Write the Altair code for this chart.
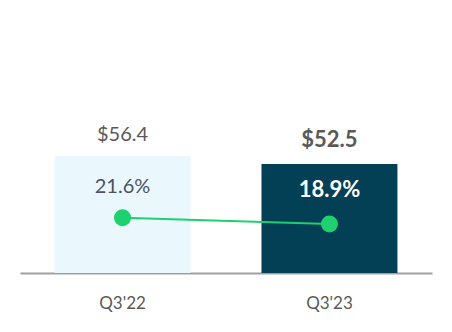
import altair as alt
import pandas as pd

quarters = ["Q3'22", "Q3'23"]
revenue = [56.4, 52.5]
revenue_labels = ["$56.4", "$52.5"]
margin = [21.6, 18.9]
margin_labels = ["21.6%", "18.9%"]
bar_colors = ["#EAF8FE", "#033F55"]

df = pd.DataFrame({
    "q": quarters, "rev": revenue, "revl": revenue_labels,
    "m": margin, "ml": margin_labels, "c": bar_colors,
})

FONT = "Lato"
x = alt.X("q:N", sort=quarters, title=None,
          scale=alt.Scale(paddingInner=0.343, paddingOuter=0.167),
          axis=alt.Axis(labelAngle=0, ticks=False, labelFont=FONT, labelFontSize=17,
                        labelColor="#595959", labelPadding=22, domainColor="#A0A0A0",
                        domainWidth=2, grid=False))
yb = alt.Y("rev:Q", scale=alt.Scale(domain=[0, 120]), axis=None)
base = alt.Chart(df).encode(x=x)

bars = base.mark_bar().encode(y=yb, color=alt.Color("c:N", scale=None))
t1 = base.transform_filter(alt.datum.q == quarters[0]).mark_text(
    font=FONT, fontSize=20, color="#595959", dy=-21).encode(y=yb, text="revl:N")
t2 = base.transform_filter(alt.datum.q == quarters[1]).mark_text(
    font=FONT, fontSize=22, fontWeight="bold", color="#595959", dy=-24).encode(y=yb, text="revl:N")
p1 = base.transform_filter(alt.datum.q == quarters[0]).mark_text(
    font=FONT, fontSize=20, color="#4A5260", dy=31).encode(y=yb, text="ml:N")
p2 = base.transform_filter(alt.datum.q == quarters[1]).mark_text(
    font=FONT, fontSize=22, fontWeight="bold", color="white", dy=26).encode(y=yb, text="ml:N")

bar_layer = alt.layer(bars, t1, t2, p1, p2)

ym = alt.Y("m:Q", scale=alt.Scale(domain=[-2.1, 104.8]), axis=None)
line = base.mark_line(color="#1ED06F", strokeWidth=2).encode(y=ym)
pts = base.mark_point(filled=True, color="#1ED06F", size=290, opacity=1).encode(y=ym)
line_layer = alt.layer(line, pts)

chart = alt.layer(bar_layer, line_layer).resolve_scale(y="independent").properties(
    width=412, height=249, background="white",
    padding={"left": 20, "top": 24, "right": 20, "bottom": 59},
    autosize=alt.AutoSizeParams(type="none"),
).configure_view(strokeWidth=0, stroke="transparent")

chart.save("out.html", embed_options={"renderer": "svg", "actions": False})
